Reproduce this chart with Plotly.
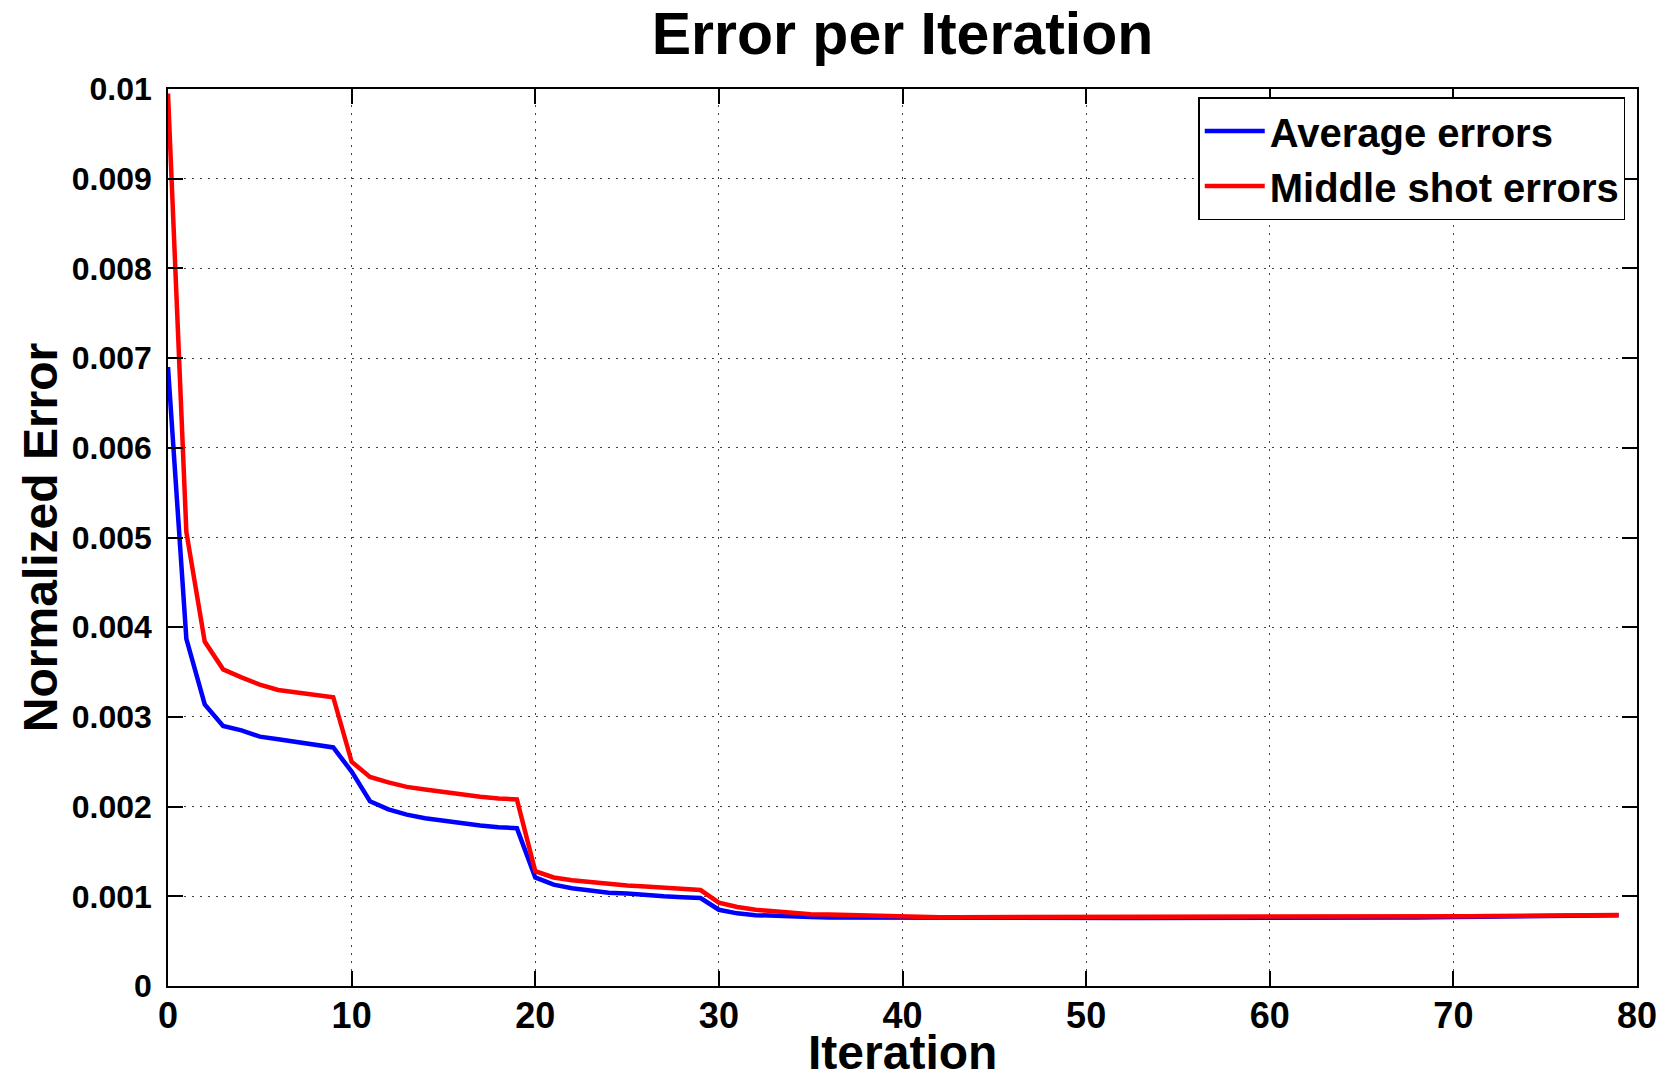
import plotly.graph_objects as go

# iteration index
iterations = list(range(80))

# Average errors (blue)
average_errors = [
    0.00690, 0.00387, 0.00314, 0.00290, 0.00285, 0.00278, 0.00275, 0.00272, 0.00270, 0.00266,
    0.00239, 0.00206, 0.00197, 0.00191, 0.00187, 0.00184, 0.00181, 0.00179, 0.00177, 0.00176,
    0.00121, 0.00113, 0.00109, 0.00106, 0.00104, 0.00103, 0.00101, 0.00100, 0.00099, 0.00098,
    0.00085, 0.00081, 0.00079, 0.00078, 0.000772, 0.000768, 0.000765, 0.000764, 0.000762, 0.000760,
    0.000758, 0.000758, 0.000758, 0.000758, 0.000758, 0.000758, 0.000758, 0.000758, 0.000758, 0.000758,
    0.000758, 0.000758, 0.000758, 0.000758, 0.000758, 0.000758, 0.000758, 0.000758, 0.000758, 0.000757,
    0.000756, 0.000752, 0.000752, 0.000752, 0.000752, 0.000753, 0.000756, 0.000760, 0.000764, 0.000767,
    0.000770, 0.000773, 0.000776, 0.000779, 0.000782, 0.000784, 0.000786, 0.000788, 0.000789, 0.000790,
]

# Middle shot errors (red)
middle_shot_errors = [
    0.00995, 0.00506, 0.00384, 0.00353, 0.00344, 0.00336, 0.00330, 0.00327, 0.00324, 0.00322,
    0.00250, 0.00233, 0.00227, 0.00222, 0.00219, 0.00216, 0.00213, 0.00211, 0.00209, 0.00208,
    0.00128, 0.00121, 0.00118, 0.00116, 0.00113, 0.00112, 0.00111, 0.00110, 0.00109, 0.00107,
    0.00093, 0.00088, 0.00085, 0.00083, 0.00082, 0.00080, 0.000797, 0.000790, 0.000784, 0.000778,
    0.000770, 0.000768, 0.000767, 0.000767, 0.000767, 0.000767, 0.000767, 0.000767, 0.000767, 0.000767,
    0.000767, 0.000767, 0.000767, 0.000767, 0.000767, 0.000767, 0.000767, 0.000767, 0.000767, 0.000767,
    0.000767, 0.000767, 0.000767, 0.000767, 0.000767, 0.000768, 0.000769, 0.000770, 0.000772, 0.000774,
    0.000776, 0.000778, 0.000780, 0.000782, 0.000784, 0.000786, 0.000788, 0.000789, 0.000790, 0.000792,
]

x_ticks = [0, 10, 20, 30, 40, 50, 60, 70, 80]
y_ticks = [0, 0.001, 0.002, 0.003, 0.004, 0.005, 0.006, 0.007, 0.008, 0.009, 0.01]
y_tick_labels = ["0", "0.001", "0.002", "0.003", "0.004", "0.005", "0.006", "0.007", "0.008", "0.009", "0.01"]

font_family = "Arial, Liberation Sans, sans-serif"

fig = go.Figure()
fig.add_trace(go.Scatter(x=iterations, y=average_errors, mode="lines",
                         name="Average errors", line=dict(color="#0000ff", width=4.5)))
fig.add_trace(go.Scatter(x=iterations, y=middle_shot_errors, mode="lines",
                         name="Middle shot errors", line=dict(color="#ff0000", width=4.5)))

# MATLAB-like boxed axes with sparse dotted grid
axis_common = dict(
    showline=True, linecolor="black", linewidth=1.5, mirror="ticks",
    ticks="inside", ticklen=15, tickwidth=1.5, tickcolor="black",
    showgrid=True, gridcolor="#444444", griddash="1.5px,6.5px", gridwidth=1.2,
    zeroline=False, automargin=False,
)

fig.update_layout(
    width=1658, height=1073,
    paper_bgcolor="white", plot_bgcolor="white",
    margin=dict(l=168, r=21, t=89, b=87),
    title=dict(text="Error per Iteration", x=0.5, xref="paper", xanchor="center",
               y=0.969, yanchor="middle",
               font=dict(family=font_family, size=59, color="black", weight="bold")),
    xaxis=dict(range=[0, 80], tickvals=x_ticks, ticklabelstandoff=-3,
               tickfont=dict(family=font_family, size=36, color="black", weight="bold"),
               **axis_common),
    yaxis=dict(range=[0, 0.01], tickvals=y_ticks, ticktext=y_tick_labels, ticklabelstandoff=8,
               tickfont=dict(family=font_family, size=32, color="black", weight="bold"),
               **axis_common),
    legend=dict(x=0.992, y=0.991, xanchor="right", yanchor="top",
                bgcolor="white", bordercolor="black", borderwidth=1.5,
                font=dict(family=font_family, size=40, color="black", weight="bold"),
                tracegroupgap=0, itemwidth=60),
    showlegend=True,
)

# axis titles placed as annotations so they sit where the original has them
fig.add_annotation(text="Iteration", xref="paper", yref="paper", x=0.5, y=-0.0745,
                   xanchor="center", yanchor="middle", showarrow=False,
                   font=dict(family=font_family, size=48, color="black", weight="bold"))
fig.add_annotation(text="Normalized Error", xref="paper", yref="paper", x=-0.0867, y=0.5,
                   xanchor="center", yanchor="middle", textangle=-90, showarrow=False,
                   font=dict(family=font_family, size=48, color="black", weight="bold"))

# drop the default 8px page margin so the figure fills the window exactly
fig.write_html("out.html", config={"displayModeBar": False},
               post_script="document.body.style.margin='0';document.body.style.overflow='hidden';")
